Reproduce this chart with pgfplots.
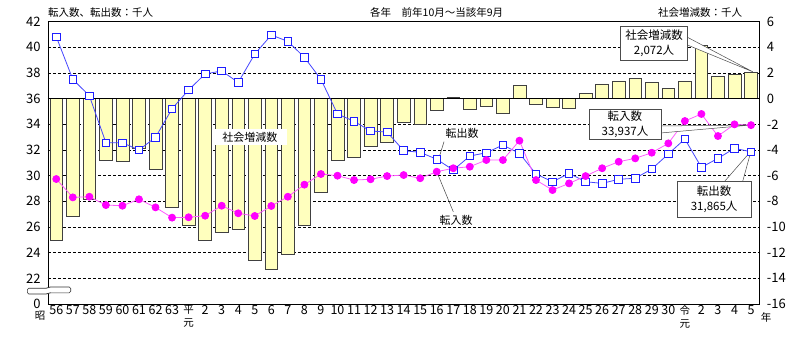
\documentclass[border=0pt]{standalone}
\usepackage{fontspec}
\setmainfont{Noto Sans CJK JP}
\usepackage{pgfplots}
\pgfplotsset{compat=1.18}
\usepackage{pgfplotstable}
\definecolor{barY}{RGB}{255,255,190}
\definecolor{lnB}{RGB}{70,70,255}
\definecolor{mkB}{RGB}{30,30,255}
\definecolor{lnM}{RGB}{255,90,255}
\definecolor{mkM}{RGB}{255,0,255}
\newcommand{\fs}{\fontsize{10.5}{14.5}\selectfont}
\newcommand{\fb}{\fontsize{11.5}{15}\selectfont}

\pgfplotstableread{
i in out net
0 29.74 40.83 -11.07
1 28.31 37.51 -9.20
2 28.36 36.23 -7.87
3 27.71 32.57 -4.80
4 27.66 32.57 -4.90
5 28.16 32.00 -3.84
6 27.53 32.99 -5.48
7 26.73 35.22 -8.50
8 26.76 36.68 -9.88
9 26.88 37.93 -11.02
10 27.66 38.16 -10.45
11 27.07 37.27 -10.20
12 26.86 39.48 -12.60
13 27.64 40.96 -13.33
14 28.36 40.47 -12.10
15 29.30 39.22 -9.90
16 30.13 37.51 -7.30
17 30.00 34.81 -4.80
18 29.66 34.24 -4.57
19 29.72 33.48 -3.70
20 29.97 33.40 -3.42
21 30.05 31.95 -1.87
22 29.80 31.82 -2.00
23 30.31 31.28 -0.92
24 30.58 30.44 0.12
25 30.70 31.53 -0.82
26 31.22 31.79 -0.60
27 31.22 32.39 -1.15
28 32.73 31.74 1.05
29 29.66 30.13 -0.45
30 28.88 29.53 -0.66
31 29.40 30.18 -0.76
32 29.97 29.53 0.41
33 30.58 29.40 1.16
34 31.09 29.72 1.38
35 31.35 29.80 1.57
36 31.79 30.52 1.26
37 32.52 31.69 0.82
38 34.26 32.86 1.39
39 34.81 30.65 4.14
40 33.09 31.35 1.72
41 34.00 32.13 1.90
42 33.937 31.865 2.072
}\data

\begin{document}
\begin{tikzpicture}
\begin{axis}[name=bars, scale only axis, width=711.3pt, height=282.3pt,
  xmin=-0.5, xmax=42.5, ymin=-16, ymax=6,
  ytick={-16,-14,...,6},
  yticklabels={-16,-14,-12,-10,-8,-6,-4,-2,0,2,4,6},
  yticklabel pos=right,
  yticklabel style={anchor=west, xshift=4pt, font=\fontsize{13}{13}\selectfont},
  xtick={0,...,42},
  xticklabels={56,57,58,59,60,61,62,63,{\fontsize{10.5}{12.5}\selectfont 平\\\fontsize{10.5}{12.5}\selectfont 元},2,3,4,5,6,7,8,9,10,11,12,13,14,15,16,17,18,19,20,21,22,23,24,25,26,27,28,29,30,{\fontsize{10.5}{12.5}\selectfont 令\\\fontsize{10.5}{12.5}\selectfont 元},2,3,4,5},
  xticklabel style={align=center, anchor=north, inner sep=1.5pt, font=\fontsize{12.5}{12.5}\selectfont},
  ymajorgrids, grid style={black, line width=0.6pt, dash pattern=on 3pt off 2pt},
  major tick length=0pt,
  axis line style={black, line width=0.8pt},
  /pgf/number format/assume math mode=true,
  clip=false,
]
\addplot[ybar, bar width=0.77, bar shift=0pt, fill=barY, draw=black!75, line width=0.6pt] table[x=i,y=net]{\data};
\end{axis}
\begin{axis}[scale only axis, width=711.3pt, height=282.3pt,
  xmin=-0.5, xmax=42.5, ymin=20, ymax=42,
  hide x axis, axis y line*=left,
  ytick={20,22,...,42},
  yticklabels={0,22,24,26,28,30,32,34,36,38,40,42},
  yticklabel style={anchor=east, xshift=-4pt, font=\fontsize{13}{13}\selectfont},
  major tick length=0pt,
  axis line style={black, line width=0.8pt},
  /pgf/number format/assume math mode=true,
  clip=false,
]
\draw[black, line width=1pt] (axis cs:-0.5,36) -- (axis cs:42.5,36);
% pointer lines
\draw[black!75, line width=0.5pt] (axis cs:23.44,32.65) -- (axis cs:23.16,31.48);
\draw[black!75, line width=0.5pt] (axis cs:23.0,30.31) -- (axis cs:24.0,27.19);
\addplot[lnB, line width=0.8pt, mark=square*, mark size=3.8pt, mark options={fill=white, draw=mkB, solid, line width=0.8pt}] table[x=i,y=out]{\data};
\addplot[lnM, line width=0.8pt, mark=*, mark size=3.5pt, mark options={fill=mkM, draw=mkM, solid}] table[x=i,y=in]{\data};
% labels
\node[fill=white, inner xsep=10pt, inner ysep=3pt, font=\fontsize{11}{14}\selectfont] at (axis cs:11.71,33.01) {社会増減数};
\node[font=\fontsize{11}{14}\selectfont] at (axis cs:24.53,33.29) {転出数};
\node[font=\fontsize{11}{14}\selectfont] at (axis cs:24.17,26.55) {転入数};
% callout: in
\filldraw[fill=white, draw=black!70, line width=0.5pt] (axis cs:36.3,33.87) -- (axis cs:42,33.95) -- (axis cs:36.3,33.30) -- cycle;
\node[draw=black!70, fill=white, line width=0.6pt, minimum width=72pt, minimum height=30pt, inner sep=1pt, align=center, font=\fb] at (axis cs:34.38,34.03) {転入数\\33,937人};
% callout: out
\filldraw[fill=white, draw=black!70, line width=0.5pt] (axis cs:40.23,29.3) -- (axis cs:42,31.92) -- (axis cs:41.44,29.3) -- cycle;
\node[draw=black!70, fill=white, line width=0.6pt, minimum width=74pt, minimum height=36pt, inner sep=1pt, align=center, font=\fb] at (axis cs:39.77,28.14) {転出数\\31,865人};
% callout: net
\filldraw[fill=white, draw=black!70, line width=0.5pt] (axis cs:37.9,40.96) -- (axis cs:42.1,38.1) -- (axis cs:37.9,40.32) -- cycle;
\node[draw=black!70, fill=white, line width=0.6pt, minimum width=67pt, minimum height=34pt, inner sep=1pt, align=center, font=\fb] at (axis cs:36.14,40.34) {社会増減数\\2,072人};
% titles
\node[anchor=west, inner sep=0pt, font=\fs] at (axis cs:-0.5,42.68) {転入数、転出数：千人};
\node[inner sep=0pt, font=\fs] at (axis cs:23.0,42.68) {各年　前年10月～当該年9月};
\node[inner sep=0pt, font=\fs] at (axis cs:38.92,42.68) {社会増減数：千人};
\node[inner sep=0pt, font=\fontsize{10.5}{12}\selectfont] at (axis cs:-0.98,19.1) {昭};
\node[inner sep=0pt, font=\fontsize{10.5}{12}\selectfont] at (axis cs:42.91,18.95) {年};
\end{axis}
% axis break symbol
\filldraw[fill=white, draw=black!80, line width=0.6pt, rounded corners=1.5pt]
  ([shift={(-20.7pt,10pt)}]bars.south west) -- ++(0,5.8pt) -- ++(20pt,0) -- ++(2pt,1.2pt) -- ++(21.4pt,0)
  -- ++(0,-5.8pt) -- ++(-21.4pt,0) -- ++(-2pt,-1.2pt) -- cycle;
\pgfresetboundingbox
\path[use as bounding box] ([shift={(-48pt,-42pt)}]bars.south west) rectangle ([shift={(40.7pt,21.7pt)}]bars.north east);
\end{tikzpicture}
\end{document}
